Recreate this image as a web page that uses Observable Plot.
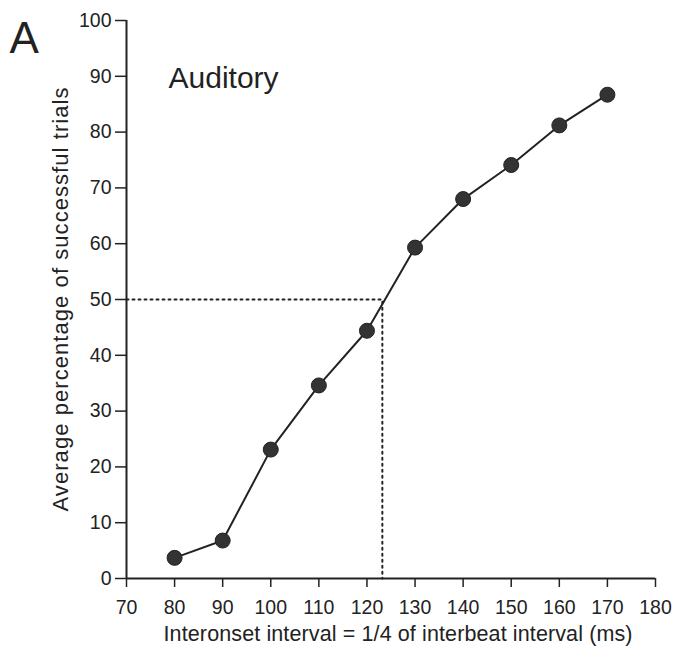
<!DOCTYPE html>
<html>
<head>
<meta charset="utf-8">
<script src="https://cdn.jsdelivr.net/npm/d3@7"></script>
<script src="https://cdn.jsdelivr.net/npm/@observablehq/plot@0.6"></script>
<style>
  html, body { margin: 0; padding: 0; background: #fff; }
  #chart svg { display: block; }
</style>
</head>
<body>
<div id="chart"></div>
<script>
// Data
const intervals = [80, 90, 100, 110, 120, 130, 140, 150, 160, 170];
const successPct = [3.7, 6.8, 23.1, 34.6, 44.4, 59.3, 68.0, 74.1, 81.2, 86.7];
const xTicks = [70, 80, 90, 100, 110, 120, 130, 140, 150, 160, 170, 180];
const yTicks = [0, 10, 20, 30, 40, 50, 60, 70, 80, 90, 100];
const criterionPct = 50;
const thresholdMs = 123.2;
const panelLabel = "A";
const conditionLabel = "Auditory";
const xLabel = "Interonset interval = 1/4 of interbeat interval (ms)";
const yLabel = "Average percentage of successful trials";

const points = intervals.map((x, i) => ({x, y: successPct[i]}));
const guide = [
  {x: xTicks[0], y: criterionPct},
  {x: thresholdMs, y: criterionPct},
  {x: thresholdMs, y: yTicks[0]}
];

const ink = "#222";
const tickFont = 19.5;

const chart = Plot.plot({
  width: 676,
  height: 647,
  marginLeft: 126,
  marginRight: 21,
  marginTop: 20,
  marginBottom: 69,
  style: {fontFamily: "'Liberation Sans', Arial, sans-serif", fontSize: "19px", color: ink, background: "#fff"},
  x: {domain: [70, 180]},
  y: {domain: [0, 100]},
  marks: [
    Plot.axisX({ticks: xTicks, tickSize: 9, tickFormat: () => "", strokeWidth: 1.5, label: null}),
    Plot.axisX({ticks: [], label: xLabel, labelAnchor: "center", labelArrow: "none", labelOffset: 62, fontSize: 21.5}),
    Plot.axisY({ticks: yTicks, tickSize: 11, tickFormat: () => "", strokeWidth: 1.5, label: null}),
    Plot.axisY({ticks: [], label: yLabel, labelAnchor: "center", labelArrow: "none", labelOffset: 74, fontSize: 22}),
    // tick labels
    Plot.text(xTicks, {x: d => d, y: yTicks[0], text: d => String(d), dy: 29, lineAnchor: "middle", fontSize: tickFont, fill: ink}),
    Plot.text(yTicks, {x: xTicks[0], y: d => d, text: d => String(d), dx: -15, textAnchor: "end", lineAnchor: "middle", fontSize: tickFont, fill: ink}),
    Plot.ruleX([xTicks[0]], {stroke: ink, strokeWidth: 2}),
    Plot.ruleY([yTicks[0]], {stroke: ink, strokeWidth: 2}),
    Plot.line(guide, {x: "x", y: "y", stroke: ink, strokeWidth: 2, strokeDasharray: "2,4"}),
    Plot.line(points, {x: "x", y: "y", stroke: ink, strokeWidth: 2}),
    Plot.dot(points, {x: "x", y: "y", r: 7.5, fill: "#333", stroke: "#222", strokeWidth: 1}),
    Plot.text([conditionLabel], {frameAnchor: "top-left", dx: 42, dy: 46, text: d => d, fontSize: 30, textAnchor: "start", fill: ink}),
    Plot.text([panelLabel], {frameAnchor: "top-left", dx: -117, dy: 1, text: d => d, fontSize: 44, textAnchor: "start", fill: ink})
  ]
});
// fine typographic tweaks to the axis titles (stretch to the reference's spacing)
d3.select(chart).selectAll("text").each(function () {
  const t = d3.select(this);
  if (t.text() === yLabel) t.attr("textLength", 424).attr("lengthAdjust", "spacing");
  if (t.text() === xLabel) t.attr("textLength", 469).attr("lengthAdjust", "spacing").attr("dx", 7);
});
document.getElementById("chart").appendChild(chart);
</script>
</body>
</html>
